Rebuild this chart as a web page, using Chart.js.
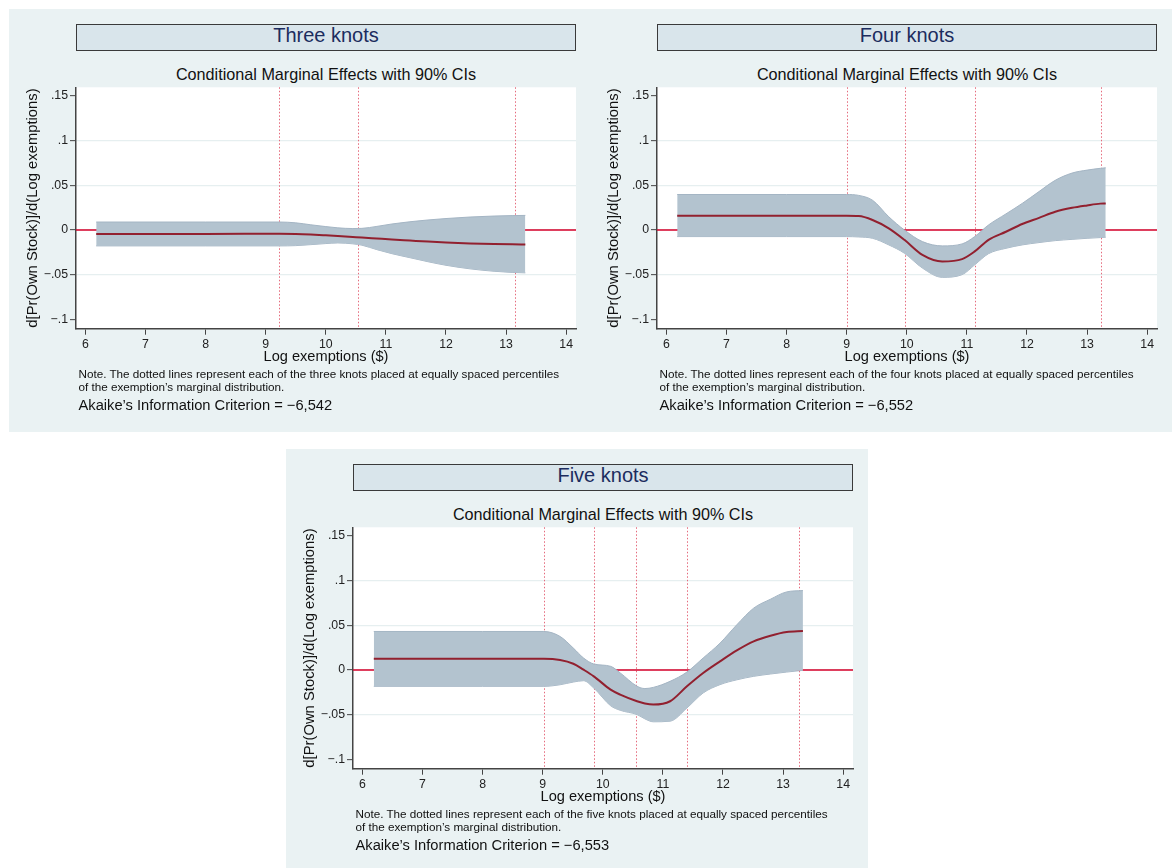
<!DOCTYPE html>
<html>
<head>
<meta charset="utf-8">
<script src="https://cdn.jsdelivr.net/npm/chart.js@4.4.0/dist/chart.umd.min.js"></script>
<style>
  body { margin: 0; width: 1173px; height: 868px; position: relative; overflow: hidden; background: #fff;
         font-family: "Liberation Sans", Arial, sans-serif; }
  .panel { position: absolute; width: 582px; height: 423px; background: #eaf2f3; }
  .panel canvas { position: absolute; left: 0; top: 0; }
  .bybox { position: absolute; left: 67px; top: 14.5px; width: 500px; height: 27px; box-sizing: border-box;
           border: 1.3px solid #3a3a3a; background: #d9e5eb; color: #1c2c5e; font-size: 20px;
           text-align: center; line-height: 21px; }
  .sub { position: absolute; left: 67px; width: 500px; top: 55px; text-align: center; font-size: 16.2px;
         line-height: 20px; color: #111; }
  .note { position: absolute; left: 69.5px; top: 359px; font-size: 11.7px; line-height: 12.5px; color: #111; white-space: nowrap; }
  .aic { position: absolute; left: 69.5px; top: 387px; font-size: 14.7px; line-height: 18px; color: #111; white-space: nowrap; }
</style>
</head>
<body>

<div class="panel" style="left:9px; top:9px;">
  <div class="bybox">Three knots</div>
  <div class="sub">Conditional Marginal Effects with 90% CIs</div>
  <canvas id="chart3" width="582" height="423"></canvas>
  <div class="note">Note. The dotted lines represent each of the three knots placed at equally spaced percentiles<br>of the exemption’s marginal distribution.</div>
  <div class="aic">Akaike’s Information Criterion = −6,542</div>
</div>

<div class="panel" style="left:590px; top:9px;">
  <div class="bybox">Four knots</div>
  <div class="sub">Conditional Marginal Effects with 90% CIs</div>
  <canvas id="chart4" width="582" height="423"></canvas>
  <div class="note">Note. The dotted lines represent each of the four knots placed at equally spaced percentiles<br>of the exemption’s marginal distribution.</div>
  <div class="aic">Akaike’s Information Criterion = −6,552</div>
</div>

<div class="panel" style="left:286px; top:449px;">
  <div class="bybox">Five knots</div>
  <div class="sub">Conditional Marginal Effects with 90% CIs</div>
  <canvas id="chart5" width="582" height="423"></canvas>
  <div class="note">Note. The dotted lines represent each of the five knots placed at equally spaced percentiles<br>of the exemption’s marginal distribution.</div>
  <div class="aic">Akaike’s Information Criterion = −6,553</div>
</div>

<script>
// axis ticks shared by all three panels
const xTicks = [6, 7, 8, 9, 10, 11, 12, 13, 14];
const yTicks = [-0.1, -0.05, 0, 0.05, 0.1, 0.15];
const yTickLabels = ['\u2212.1', '\u2212.05', '0', '.05', '.1', '.15'];

// three knots
const threeX   = [6.18, 8, 9.23, 9.5, 9.75, 10.0, 10.2, 10.45, 10.6, 10.85, 11.1, 11.4, 11.7, 12.0, 12.4, 12.8, 13.1, 13.32];
const threeHi  = [.0089, .0089, .0089, .0080, .0058, .0038, .0024, .0016, .0018, .0040, .0067, .0092, .0112, .0128, .0145, .0156, .0161, .0163];
const threeEst = [-.0044, -.0044, -.0043, -.0045, -.0051, -.0060, -.0068, -.0078, -.0084, -.0095, -.0106, -.0118, -.0130, -.0140, -.0150, -.0157, -.0161, -.0163];
const threeLo  = [-.0178, -.0178, -.0178, -.0175, -.0164, -.0152, -.0145, -.0155, -.0170, -.0220, -.0265, -.0310, -.0355, -.0395, -.0435, -.0462, -.0475, -.0480];
const threeKnots = [9.22, 10.54, 13.15];

// four knots
const fourX   = [6.18, 8, 9.0, 9.2, 9.43, 9.70, 9.96, 10.26, 10.59, 10.92, 11.13, 11.36, 11.65, 11.92, 12.2, 12.47, 12.75, 13.0, 13.22, 13.31];
const fourHi  = [.0397, .0397, .0397, .0387, .0333, .0148, .0000, -.0130, -.0178, -.0156, -.0074, .0056, .0180, .0297, .0430, .0556, .0637, .0670, .0690, .0696];
const fourEst = [.0159, .0159, .0159, .0156, .0112, .0019, -.0110, -.0278, -.0352, -.0326, -.0240, -.0110, -.0020, .0067, .0136, .0204, .0248, .0275, .0295, .0297];
const fourLo  = [-.0074, -.0074, -.0074, -.0078, -.0093, -.0167, -.0260, -.0426, -.0530, -.0500, -.0390, -.0265, -.0205, -.0167, -.0141, -.0119, -.0105, -.0093, -.0085, -.0081];
const fourKnots = [9.0, 9.97, 11.14, 13.23];

// five knots
const fiveX   = [6.19, 8, 9.02, 9.29, 9.51, 9.68, 9.85, 10.13, 10.29, 10.57, 10.70, 10.84, 11.12, 11.40, 11.67, 11.95, 12.23, 12.51, 12.79, 13.06, 13.33];
const fiveHi  = [.0431, .0431, .0431, .0375, .0245, .0134, .0067, .0041, -.0033, -.0182, -.0208, -.0195, -.0127, -.0023, .0134, .0300, .0506, .0692, .0792, .0874, .0889];
const fiveEst = [.0126, .0126, .0126, .0112, .0070, .0003, -.0071, -.0220, -.0276, -.0350, -.0375, -.0387, -.0350, -.0183, -.0034, .0096, .0219, .0320, .0383, .0424, .0435];
const fiveLo  = [-.0183, -.0183, -.0183, -.0165, -.0135, -.0120, -.0202, -.0400, -.0451, -.0499, -.0547, -.0580, -.0573, -.0425, -.0257, -.0164, -.0110, -.0071, -.0045, -.0023, -.0004];
const fiveKnots = [9.02, 9.85, 10.55, 11.40, 13.26];

Chart.defaults.font.family = "'Liberation Sans', Arial, sans-serif";
Chart.defaults.color = '#222';

// white plot region, red zero line and dotted knot lines under the band
const plotDecor = {
  id: 'plotDecor',
  beforeDraw(chart) {
    const a = chart.chartArea;
    const ctx = chart.ctx;
    ctx.save();
    ctx.fillStyle = '#ffffff';
    ctx.fillRect(a.left, a.top, a.right - a.left, a.bottom - a.top);
    ctx.restore();
  },
  beforeDatasetsDraw(chart, args, opts) {
    const a = chart.chartArea;
    const ctx = chart.ctx;
    const xs = chart.scales.x, ys = chart.scales.y;
    ctx.save();
    // knots
    ctx.strokeStyle = '#e56a7c';
    ctx.lineWidth = 1;
    ctx.setLineDash([1.5, 2]);
    opts.knots.forEach(function (k) {
      const px = Math.round(xs.getPixelForValue(k)) + 0.5;
      ctx.beginPath();
      ctx.moveTo(px, a.top);
      ctx.lineTo(px, a.bottom);
      ctx.stroke();
    });
    // zero line
    ctx.setLineDash([]);
    ctx.strokeStyle = '#d6002a';
    ctx.lineWidth = 1.6;
    const py = ys.getPixelForValue(0);
    ctx.beginPath();
    ctx.moveTo(a.left, py);
    ctx.lineTo(a.right, py);
    ctx.stroke();
    ctx.restore();
  }
};

function pts(xs, ys) {
  return xs.map(function (x, i) { return { x: x, y: ys[i] }; });
}

function makePanel(id, xs, lo, est, hi, knots) {
  const ctx = document.getElementById(id).getContext('2d');
  return new Chart(ctx, {
    type: 'line',
    data: {
      datasets: [
        {
          label: 'estimate',
          data: pts(xs, est),
          borderColor: '#92202f',
          borderWidth: 2,
          pointRadius: 0,
          cubicInterpolationMode: 'monotone',
          fill: false
        },
        {
          label: 'upper',
          data: pts(xs, hi),
          borderColor: '#a4b5c4',
          borderWidth: 1,
          backgroundColor: '#b3c3cf',
          pointRadius: 0,
          cubicInterpolationMode: 'monotone',
          fill: '+1'
        },
        {
          label: 'lower',
          data: pts(xs, lo),
          borderColor: '#a4b5c4',
          borderWidth: 1,
          pointRadius: 0,
          cubicInterpolationMode: 'monotone',
          fill: false
        }
      ]
    },
    options: {
      responsive: false,
      animation: false,
      devicePixelRatio: 1,
      layout: { padding: { left: 0, right: 15, top: 78.3, bottom: 0 } },
      plugins: {
        legend: { display: false },
        tooltip: { enabled: false },
        plotDecor: { knots: knots }
      },
      scales: {
        x: {
          type: 'linear',
          min: 5.844,
          max: 14.163,
          afterFit: function (scale) { scale.height = 103.3; },
          afterBuildTicks: function (scale) {
            scale.ticks = xTicks.map(function (v) { return { value: v }; });
          },
          grid: { display: true, drawOnChartArea: false, drawTicks: true, tickLength: 6, tickColor: '#444', tickWidth: 1 },
          border: { display: true, color: '#444', width: 1.5 },
          ticks: { autoSkip: false, maxRotation: 0, padding: 3, font: { size: 12.3 }, color: '#222',
                   callback: function (v) { return String(v); } },
          title: { display: true, text: 'Log exemptions ($)', font: { size: 14.6 }, color: '#111',
                   padding: { top: 0, bottom: 66.6 } }
        },
        y: {
          type: 'linear',
          min: -0.1105,
          max: 0.1597,
          afterFit: function (scale) { scale.width = 67; },
          afterBuildTicks: function (scale) {
            scale.ticks = yTicks.map(function (v) { return { value: v }; });
          },
          grid: {
            display: true,
            drawTicks: true,
            tickLength: 6,
            tickColor: '#444',
            tickWidth: 1,
            lineWidth: 1.3,
            color: function (c) {
              const v = c.tick ? c.tick.value : null;
              return (v === -0.1 || v === 0.15) ? 'rgba(0,0,0,0)' : '#e6eff0';
            }
          },
          border: { display: true, color: '#444', width: 1.5 },
          ticks: { autoSkip: false, padding: 2, font: { size: 12.3 }, color: '#222',
                   callback: function (v) {
                     const i = yTicks.indexOf(v);
                     return i >= 0 ? yTickLabels[i] : '';
                   } },
          title: { display: true, text: 'd[Pr(Own Stock)]/d(Log exemptions)', font: { size: 14.8 }, color: '#111',
                   padding: { top: 14.6, bottom: 0 } }
        }
      }
    },
    plugins: [plotDecor]
  });
}

makePanel('chart3', threeX, threeLo, threeEst, threeHi, threeKnots);
makePanel('chart4', fourX, fourLo, fourEst, fourHi, fourKnots);
makePanel('chart5', fiveX, fiveLo, fiveEst, fiveHi, fiveKnots);
</script>
</body>
</html>
